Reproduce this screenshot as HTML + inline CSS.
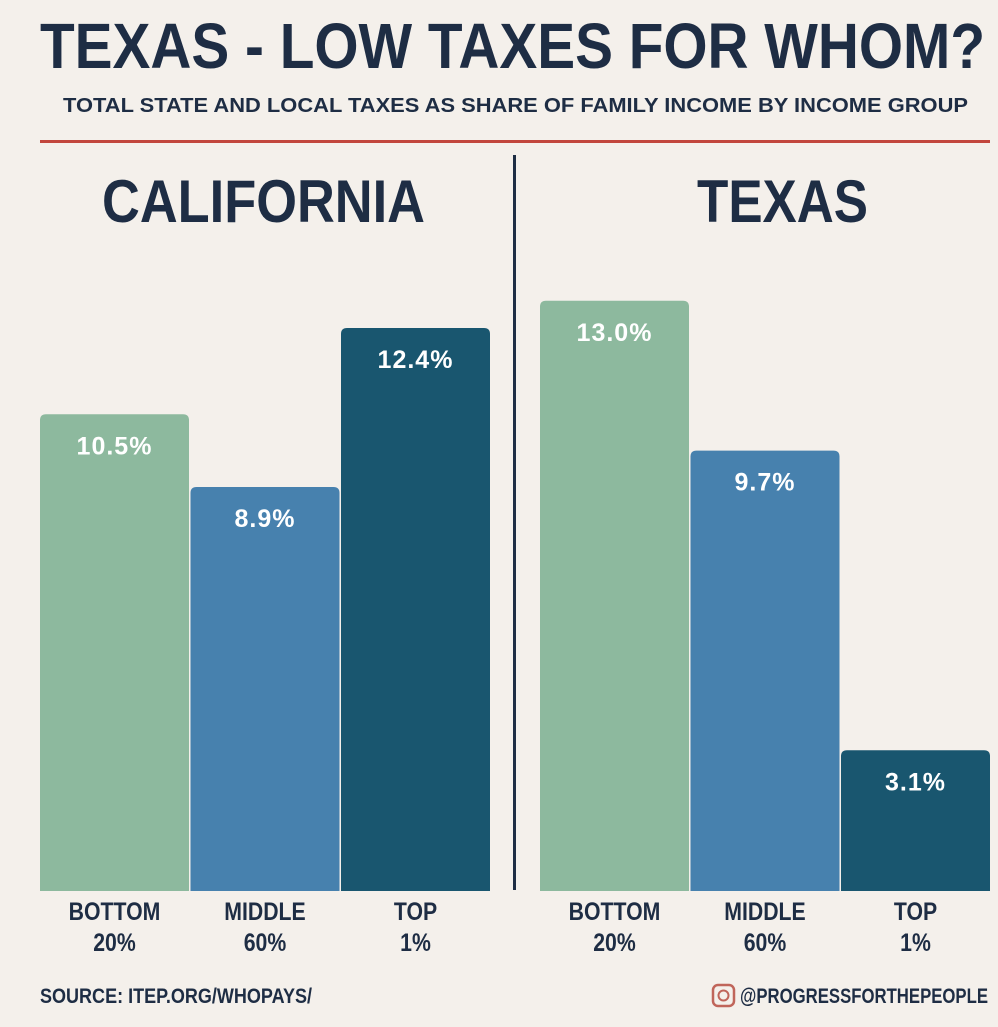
<!DOCTYPE html>
<html><head><meta charset="utf-8"><style>
html,body{margin:0;padding:0;background:#f4f0eb;}
svg{display:block;font-family:"Liberation Sans",sans-serif;font-weight:bold;}
</style></head><body>
<svg id="c" width="998" height="1027" viewBox="0 0 998 1027">
<rect width="998" height="1027" fill="#f4f0eb"/>
<text x="40" y="68" font-size="64" fill="#1e2d44" textLength="945" lengthAdjust="spacingAndGlyphs">TEXAS - LOW TAXES FOR WHOM?</text>
<text x="63" y="112" font-size="20" fill="#1e2d44" textLength="905" lengthAdjust="spacingAndGlyphs">TOTAL STATE AND LOCAL TAXES AS SHARE OF FAMILY INCOME BY INCOME GROUP</text>
<rect x="40" y="140" width="950" height="3" fill="#c2463d"/>
<rect x="513" y="155" width="3" height="735" fill="#1e2d44"/>
<text x="102" y="222" font-size="60" fill="#1e2d44" textLength="323" lengthAdjust="spacingAndGlyphs">CALIFORNIA</text>
<text x="697" y="222" font-size="60" fill="#1e2d44" textLength="171" lengthAdjust="spacingAndGlyphs">TEXAS</text>
<g id="bars"></g>
<text x="40" y="1003" font-size="21" fill="#1e2d44" textLength="272" lengthAdjust="spacingAndGlyphs">SOURCE: ITEP.ORG/WHOPAYS/</text>
<rect x="713" y="985" width="21" height="21" rx="5" fill="none" stroke="#c0655a" stroke-width="2.5"/>
<circle cx="723.5" cy="995.5" r="5" fill="none" stroke="#c0655a" stroke-width="2"/>
<text x="740" y="1003" font-size="21" fill="#1e2d44" textLength="248" lengthAdjust="spacingAndGlyphs">@PROGRESSFORTHEPEOPLE</text>
</svg>
<script>
const categories = ["BOTTOM|20%", "MIDDLE|60%", "TOP|1%"];
const californiaValues = [10.5, 8.9, 12.4];
const texasValues = [13.0, 9.7, 3.1];
const valueLabelsCA = ["10.5%", "8.9%", "12.4%"];
const valueLabelsTX = ["13.0%", "9.7%", "3.1%"];
const colors = ["#8db99e", "#4781ae", "#19566f"];
const NS = "http://www.w3.org/2000/svg";
const g = document.getElementById("bars");
const baseY = 891, pxPer = 45.4;
function y(v){ return baseY - v * pxPer; }
function panel(x0, vals, labels, name){
  vals.forEach((v, i) => {
    const x = x0 + i * 150.5, w = 149, top = y(v), h = baseY - top, r = 6;
    const p = document.createElementNS(NS, "path");
    p.setAttribute("d", `M${x},${baseY} V${top+r} Q${x},${top} ${x+r},${top} H${x+w-r} Q${x+w},${top} ${x+w},${top+r} V${baseY} Z`);
    p.setAttribute("fill", colors[i]);
    
    
    g.appendChild(p);
    const t = document.createElementNS(NS, "text");
    t.setAttribute("x", x + w/2); t.setAttribute("y", top + 40);
    t.setAttribute("text-anchor", "middle"); t.setAttribute("font-size", "25");
    t.setAttribute("fill", "#ffffff"); t.setAttribute("letter-spacing", "1");
    t.textContent = labels[i];
    
    
    g.appendChild(t);
    categories[i].split("|").forEach((s, k) => {
      const c = document.createElementNS(NS, "text");
      c.setAttribute("x", x + w/2); c.setAttribute("y", 920 + k*31);
      c.setAttribute("text-anchor", "middle"); c.setAttribute("font-size", "25");
      c.setAttribute("fill", "#1e2d44");
      c.setAttribute("transform", `translate(${x + w/2},0) scale(0.85,1) translate(${-(x + w/2)},0)`);
      c.textContent = s;
      
      
      g.appendChild(c);
    });
  });
}
panel(40, californiaValues, valueLabelsCA, "ca");
panel(540, texasValues, valueLabelsTX, "tx");
</script>
</body></html>
